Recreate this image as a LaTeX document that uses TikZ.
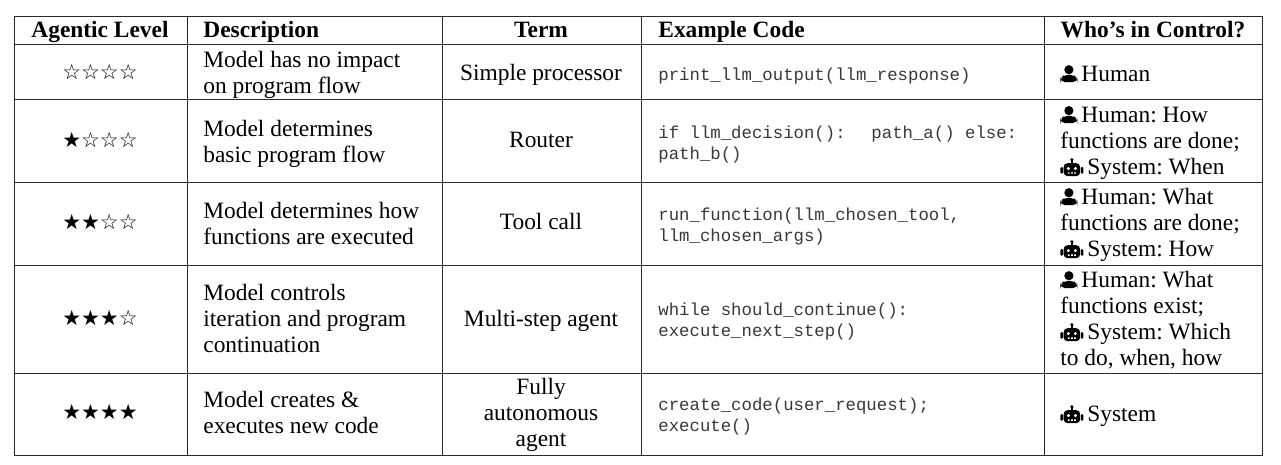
\documentclass[tikz,border=0pt]{standalone}
\usepackage{fontspec}
\setmainfont{Liberation Serif}
\setmonofont{Liberation Mono}
\newfontfamily\starfont{DejaVu Sans}
\usetikzlibrary{positioning}
\definecolor{RuleGray}{HTML}{2A2A2A}
\newcommand{\hdcell}[3]{\node[cell,font=\fontsize{11.7}{13}\selectfont\bfseries] (#1) at (#2) {#3};}
\newcommand{\hdleft}[3]{\node[cell,anchor=west,font=\fontsize{11.7}{13}\selectfont\bfseries] (#1) at (#2) {#3};}
\newcommand{\stcell}[3]{\node[cell,font=\fontsize{10.5}{13}\selectfont\starfont] (#1) at (#2) {#3};}
\newcommand{\txcell}[3]{\node[cell,anchor=west,align=left] (#1) at (#2) {#3};}
\newcommand{\tmcell}[3]{\node[cell,align=center] (#1) at (#2) {#3};}
\newcommand{\cdcell}[3]{\node[cell,anchor=west,align=left,text=black!78,font=\fontsize{8.67}{10.5}\selectfont\ttfamily] (#1) at (#2) {#3};}
\newcommand{\iconhuman}{\tikz[baseline=0pt,x=0.5pt,y=0.5pt]{
  \fill (8.5,11.5) circle (4.6);
  \fill[rounded corners=2.4pt] (0,-1) -- (0,3) -- (4,6.4) -- (13,6.4) -- (17,3) -- (17,-1) -- cycle;}\hspace{2pt}}
\newcommand{\iconrobot}{\tikz[baseline=0pt,x=0.5pt,y=0.5pt]{
  \fill[rounded corners=2pt] (3.2,-2) rectangle (19.8,11);
  \fill[rounded corners=0.5pt] (0,0.5) rectangle (2.6,7);
  \fill[rounded corners=0.5pt] (20.4,0.5) rectangle (23,7);
  \fill (10.5,10) rectangle (12.5,14);
  \fill (11.5,14.4) circle (1.8);
  \fill[white] (8,5.6) circle (1.7) (15,5.6) circle (1.7);
  \fill[white] (7.5,0.4) rectangle (9.3,1.8) (10.6,0.4) rectangle (12.4,1.8) (13.7,0.4) rectangle (15.5,1.8);}\hspace{2pt}}

\begin{document}
\frenchspacing
\begin{tikzpicture}[
  x=0.5pt, y=-0.5pt,
  cell/.style={inner sep=0pt, font=\fontsize{11.7}{13}\selectfont,
    execute at begin node=\strut, execute at end node=\strut},
  rule/.style={draw=RuleGray, line width=0.5pt},
]
\useasboundingbox (0,0) rectangle (1281,465);

%% ── Grid ─────────────────────────────────────────────────────────
\draw[rule] (14,17) rectangle (1262,455);
\draw[rule] (14,45) -- (1262,45);
\draw[rule] (14,100) -- (1262,100);
\draw[rule] (14,183) -- (1262,183);
\draw[rule] (14,265) -- (1262,265);
\draw[rule] (14,373) -- (1262,373);
\draw[rule] (187,17) -- (187,455);
\draw[rule] (442,17) -- (442,455);
\draw[rule] (641,17) -- (641,455);
\draw[rule] (1044,17) -- (1044,455);

%% ── Header ───────────────────────────────────────────────────────
\hdcell{HL}{100,32}{Agentic Level}
\hdleft{HD}{203,32}{Description}
\hdcell{HT}{541,32}{Term}
\hdleft{HC}{658,32}{Example Code}
\hdcell{HW}{1153,32}{Who’s in Control?}

%% ── Simple processor ─────────────────────────────────────────────
\stcell{PL}{100,74.5}{☆☆☆☆}
\txcell{PD}{203,76}{Model has no impact\\on program flow}
\tmcell{PT}{541,75}{Simple processor}
\cdcell{PC}{658,76}{print\_llm\_output(llm\_response)}
\txcell{PW}{1060,76}{\iconhuman Human}

%% ── Router ───────────────────────────────────────────────────────
\stcell{RL}{100,142}{★☆☆☆}
\txcell{RD}{203,145}{Model determines\\basic program flow}
\tmcell{RT}{541,142}{Router}
\cdcell{RC}{658,146}{if llm\_decision():\ \ \hspace{2.5pt}path\_a() else:\\path\_b()}
\txcell{RW}{1060,144}{\iconhuman Human: How\\functions are done;\\\iconrobot System: When}

%% ── Tool call ────────────────────────────────────────────────────
\stcell{TL}{100,224}{★★☆☆}
\txcell{TD}{203,227.5}{Model determines how\\functions are executed}
\tmcell{TT}{541,224}{Tool call}
\cdcell{TC}{658,228}{run\_function(llm\_chosen\_tool,\\llm\_chosen\_args)}
\txcell{TW}{1060,226}{\iconhuman Human: What\\functions are done;\\\iconrobot System: How}

%% ── Multi-step agent ─────────────────────────────────────────────
\stcell{ML}{100,320.5}{★★★☆}
\txcell{MD}{203,322}{Model controls\\iteration and program\\continuation}
\tmcell{MT}{541,321}{Multi-step agent}
\cdcell{MC}{658,323}{while should\_continue():\\execute\_next\_step()}
\txcell{MW}{1060,322}{\iconhuman Human: What\\functions exist;\\\iconrobot System: Which\\to do, when, how}

%% ── Fully autonomous agent ───────────────────────────────────────
\stcell{FL}{100,414}{★★★★}
\txcell{FD}{203,416}{Model creates \&\\executes new code}
\tmcell{FT}{541,416}{Fully\\autonomous\\agent}
\cdcell{FC}{658,418}{create\_code(user\_request);\\execute()}
\txcell{FW}{1060,416}{\iconrobot System}

\end{tikzpicture}
\end{document}
